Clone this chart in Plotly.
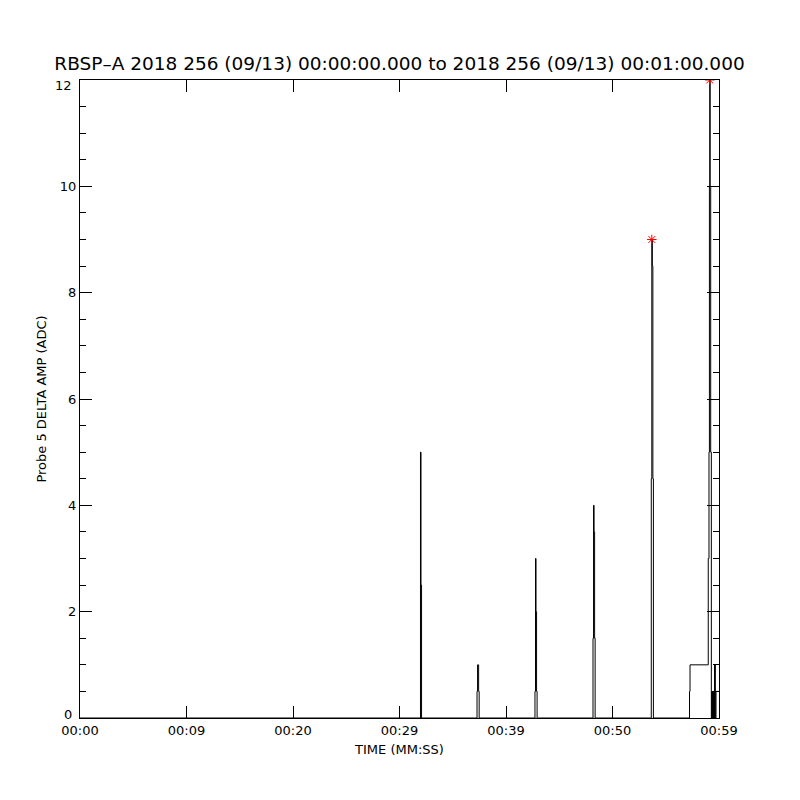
import plotly.graph_objects as go

# ---- data (seconds after 00:00:00, ADC counts) ----
spike_start = [31.92, 37.28, 42.72, 48.17, 53.64]
spike_low = [0, 0.5, 0.5, 1.5, 4.5]
spike_mid = [2.5, 1, 2, 3.5, 8.5]
spike_peak = [5, 1, 3, 4, 9]
sub_dt = 0.05

end_times = [57.23, 57.28, 58.99, 59.06, 59.10, 59.13, 59.17, 59.22, 59.28,
             59.32, 59.36, 59.40, 59.44, 59.48, 59.52, 59.58, 59.66, 59.72, 60.0]
end_values = [0.5, 1, 3, 5, 10, 12, 10, 5, 0,
              0.5, 0, 0.5, 0, 0.5, 0, 1, 0, 0.5, 0.5]

star_times = [53.69, 59.13]
star_values = [9, 12]

tick_vals = [0, 10, 20, 30, 40, 50, 60]
tick_text = ["00:00", "00:09", "00:20", "00:29", "00:39", "00:50", "00:59"]
y_tick_vals = [0, 2, 4, 6, 8, 10, 12]
y_tick_text = ["0", "2", "4", "6", "8", "10", "12"]

title = "RBSP\u2013A 2018 256 (09/13) 00:00:00.000 to 2018 256 (09/13) 00:01:00.000"

# ---- build the series ----
t = [0.0]
v = [0.0]
for t0, lo, mid, pk in zip(spike_start, spike_low, spike_mid, spike_peak):
    for k, val in enumerate([lo, pk, mid, lo, 0]):
        t.append(t0 + k * sub_dt)
        v.append(val)
t += end_times
v += end_values

fig = go.Figure()
fig.add_trace(go.Scatter(x=t, y=v, mode="lines", line=dict(color="black", width=1, shape="hv"),
                         showlegend=False, hoverinfo="skip"))
fig.add_trace(go.Scatter(x=star_times, y=star_values, mode="markers",
                         marker=dict(symbol="asterisk-open", size=8, color="red",
                                     line=dict(color="red", width=1)),
                         showlegend=False, hoverinfo="skip"))

# end labels are nudged inward (IDL style) so they do not collide with title / x labels
inner_text = [txt if 0 < val < 12 else "" for val, txt in zip(y_tick_vals, y_tick_text)]
for val, txt in zip(y_tick_vals, y_tick_text):
    if val in (0, 12):
        fig.add_annotation(x=0, xref="paper", y=val, yref="y", text=txt, showarrow=False,
                           xanchor="right", yanchor="middle", xshift=-6,
                           yshift=4 if val == 0 else -5,
                           font=dict(family="DejaVu Sans", size=13, color="black"))

fig.update_layout(
    width=800, height=800,
    paper_bgcolor="white", plot_bgcolor="white",
    margin=dict(l=72, r=89, t=72, b=90),
    font=dict(family="DejaVu Sans", size=13, color="black"),
    title=dict(text=title, x=0.5, xref="paper", xanchor="center", y=1 - 56 / 800, yanchor="middle",
               yref="container", font=dict(family="DejaVu Sans", size=18.5, color="black")),
    xaxis=dict(range=[0, 60], tickvals=tick_vals, ticktext=tick_text,
               ticks="inside", ticklen=12, tickcolor="black", tickwidth=1,
               showline=True, linecolor="black", linewidth=1, mirror="ticks",
               showgrid=False, zeroline=False,
               title=dict(text="TIME (MM:SS)", standoff=8, font=dict(size=13)),
               tickfont=dict(size=13)),
    yaxis=dict(range=[0, 12], tickvals=y_tick_vals, ticktext=inner_text,
               ticks="inside", ticklen=12, tickcolor="black", tickwidth=1,
               showline=True, linecolor="black", linewidth=1, mirror="ticks",
               showgrid=False, zeroline=False,
               minor=dict(dtick=0.5, ticks="inside", ticklen=6, tickcolor="black", showgrid=False),
               title=dict(text="Probe 5 DELTA AMP (ADC)", standoff=10, font=dict(size=13)),
               tickfont=dict(size=13)),
)

fig.write_html("out.html")
